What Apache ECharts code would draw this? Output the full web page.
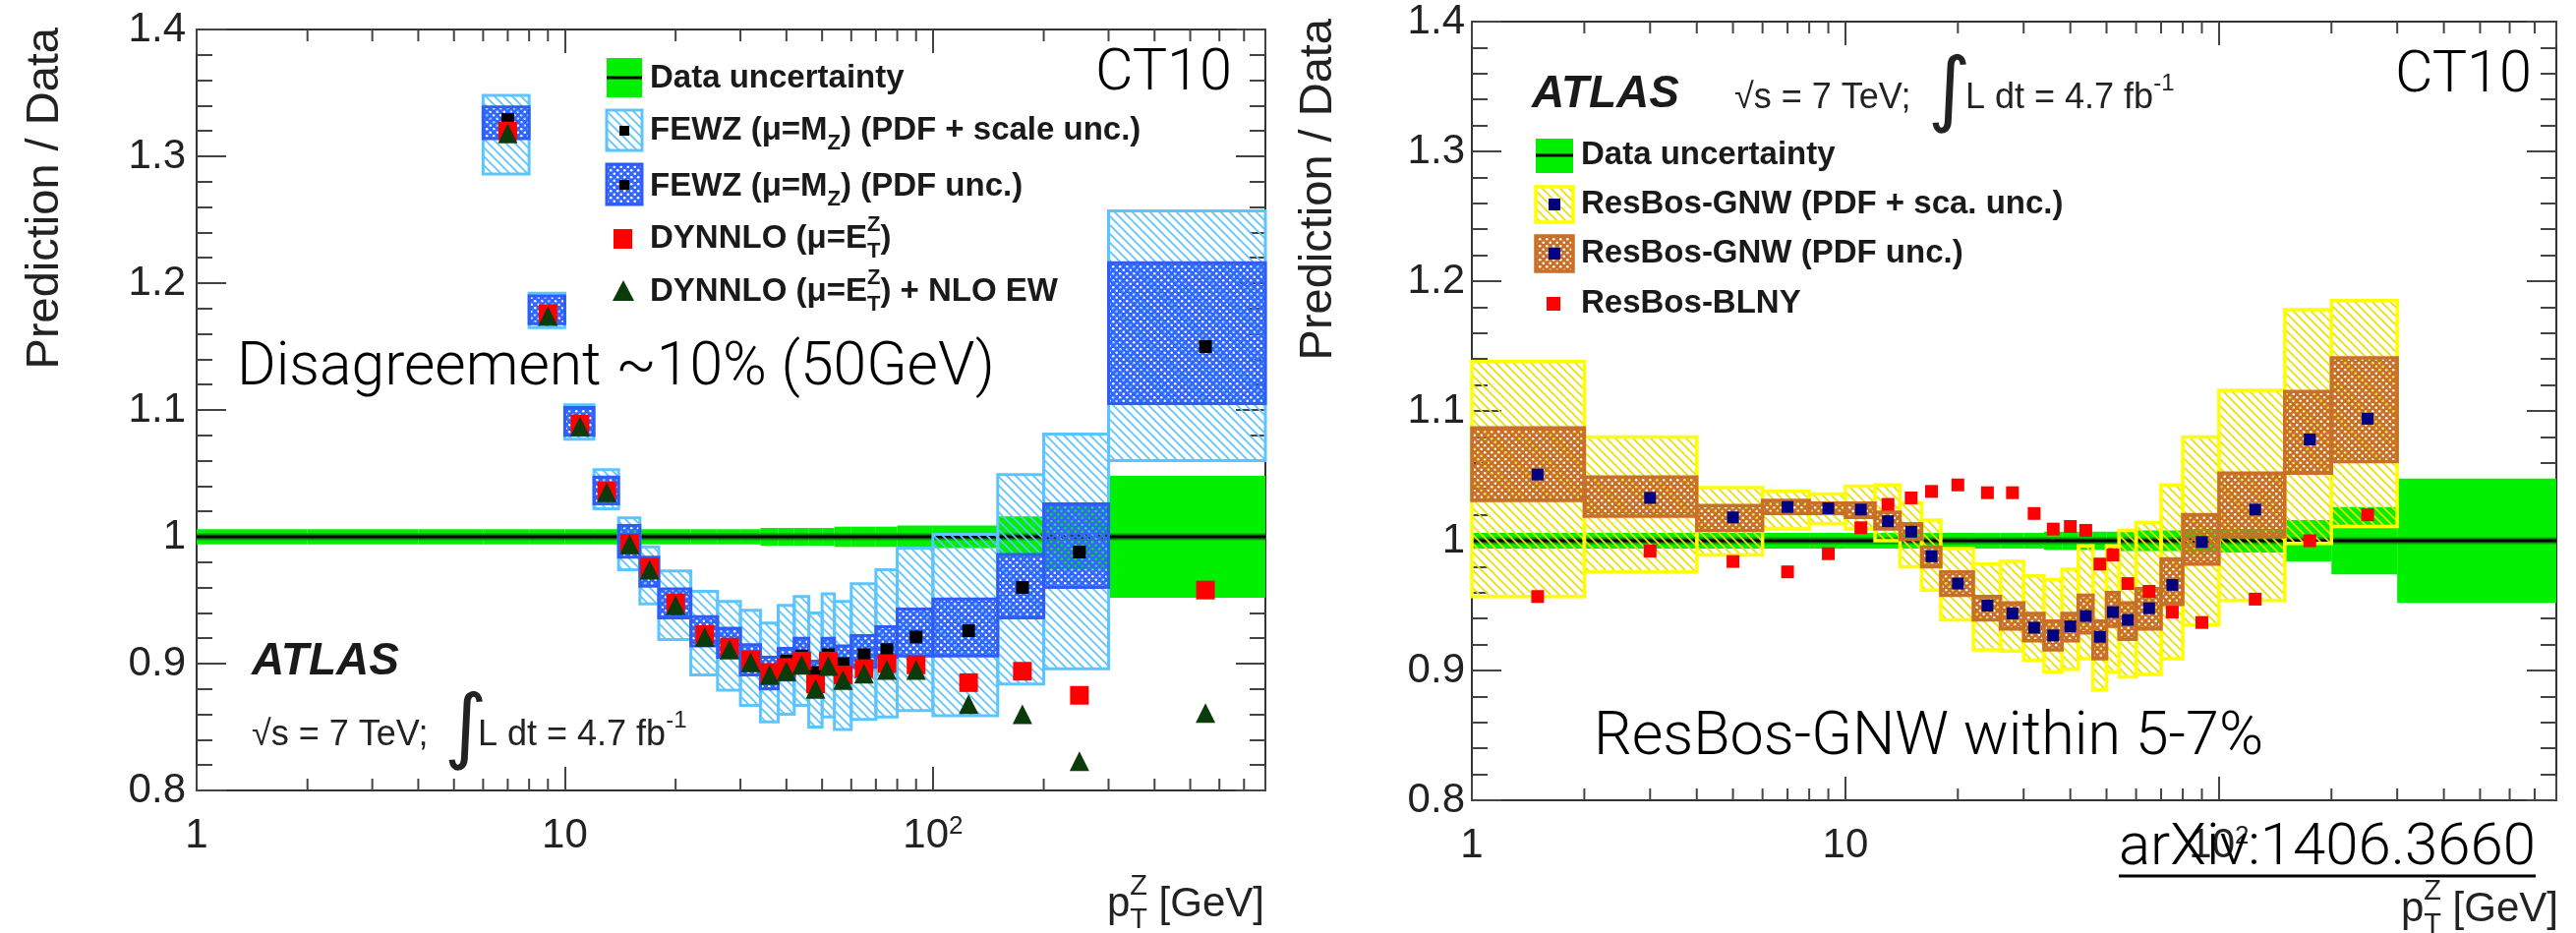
<!DOCTYPE html>
<html>
<head>
<meta charset="utf-8">
<script src="https://cdn.jsdelivr.net/npm/echarts@6/dist/echarts.min.js"></script>
<style>
  html, body { margin: 0; padding: 0; background: #fff; }
  #chart { width: 2620px; height: 949px; }
</style>
</head>
<body>
<div id="chart"></div>
<script>
// pT bin edges (GeV), same binning in both panels
var edges = [1, 2, 4, 6, 8, 10, 12, 14, 16, 18, 22, 26, 30, 34, 38, 42, 46, 50, 54, 60, 70, 80, 100, 150, 200, 300, 800];
var centers = [1.5, 3, 5, 7, 9, 11, 13, 15, 17, 20, 24, 28, 32, 36, 40, 44, 48, 52, 57, 65, 75, 90, 125, 175, 250, 550];
// half width of the data uncertainty band, per bin
var dataUnc = [0.006, 0.006, 0.006, 0.006, 0.006, 0.006, 0.006, 0.006, 0.006, 0.006, 0.006, 0.006, 0.006,
  0.007, 0.007, 0.007, 0.007, 0.007, 0.008, 0.008, 0.008, 0.009, 0.009, 0.016, 0.026, 0.048];

// left panel: FEWZ / DYNNLO, from bin [6,8] on
var fewzFirst = 3;
var fewzCentral = [1.329, 1.177, 1.091, 1.037, 0.997, 0.972, 0.947, 0.922, 0.914, 0.903, 0.895, 0.902, 0.906, 0.893, 0.907, 0.900, 0.907, 0.911, 0.921, 0.926, 0.960, 0.988, 1.150];
var fewzPdfLo = [1.314, 1.168, 1.080, 1.026, 0.984, 0.961, 0.936, 0.914, 0.905, 0.891, 0.880, 0.887, 0.895, 0.879, 0.897, 0.891, 0.897, 0.905, 0.906, 0.906, 0.936, 0.960, 1.105];
var fewzPdfHi = [1.339, 1.190, 1.102, 1.047, 1.009, 0.984, 0.959, 0.937, 0.928, 0.915, 0.905, 0.912, 0.920, 0.902, 0.920, 0.914, 0.922, 0.929, 0.943, 0.951, 0.986, 1.026, 1.216];
var fewzTotLo = [1.286, 1.165, 1.077, 1.022, 0.974, 0.947, 0.919, 0.891, 0.879, 0.867, 0.854, 0.860, 0.867, 0.850, 0.858, 0.848, 0.856, 0.858, 0.863, 0.859, 0.884, 0.896, 1.060];
var fewzTotHi = [1.348, 1.192, 1.104, 1.053, 1.015, 0.992, 0.973, 0.957, 0.949, 0.942, 0.932, 0.946, 0.953, 0.940, 0.955, 0.949, 0.963, 0.974, 0.991, 1.002, 1.049, 1.081, 1.257];
var dynnlo = [1.320, 1.176, 1.089, 1.036, 0.995, 0.976, 0.948, 0.923, 0.913, 0.903, 0.893, 0.897, 0.902, 0.884, 0.902, 0.891, 0.896, 0.900, 0.899, 0.885, 0.894, 0.875, 0.958];
var dynnloEw = [1.318, 1.174, 1.087, 1.035, 0.994, 0.974, 0.946, 0.921, 0.911, 0.901, 0.891, 0.894, 0.899, 0.880, 0.898, 0.887, 0.892, 0.895, 0.895, 0.868, 0.860, 0.823, 0.861];

// right panel: ResBos, bins [1,2] .. [200,300]
var gnwCentral = [1.051, 1.033, 1.018, 1.026, 1.025, 1.024, 1.015, 1.007, 0.988, 0.967, 0.950, 0.944, 0.933, 0.927, 0.934, 0.942, 0.926, 0.945, 0.939, 0.948, 0.966, 0.999, 1.024, 1.078, 1.094];
var gnwPdfLo = [1.031, 1.019, 1.008, 1.021, 1.021, 1.018, 1.009, 1.001, 0.980, 0.958, 0.939, 0.932, 0.923, 0.916, 0.923, 0.929, 0.909, 0.934, 0.924, 0.932, 0.951, 0.982, 1.003, 1.052, 1.061];
var gnwPdfHi = [1.087, 1.049, 1.027, 1.031, 1.029, 1.029, 1.022, 1.013, 0.995, 0.976, 0.957, 0.952, 0.944, 0.938, 0.944, 0.958, 0.938, 0.960, 0.952, 0.963, 0.986, 1.020, 1.052, 1.115, 1.141];
var gnwTotLo = [0.957, 0.976, 0.989, 1.009, 1.013, 1.009, 1.000, 0.980, 0.962, 0.939, 0.916, 0.915, 0.908, 0.899, 0.901, 0.909, 0.885, 0.899, 0.895, 0.897, 0.909, 0.935, 0.954, 0.998, 1.011];
var gnwTotHi = [1.138, 1.080, 1.041, 1.038, 1.036, 1.042, 1.043, 1.029, 1.016, 0.994, 0.982, 0.984, 0.973, 0.970, 0.978, 0.996, 0.986, 0.996, 1.008, 1.014, 1.043, 1.080, 1.116, 1.178, 1.185];
var blny = [0.957, 0.992, 0.984, 0.976, 0.990, 1.010, 1.028, 1.033, 1.038, 1.043, 1.037, 1.037, 1.021, 1.009, 1.011, 1.008, 0.982, 0.989, 0.967, 0.961, 0.945, 0.937, 0.955, 1.000, 1.020];

// log-axis minor tick positions
var minorX = [2, 3, 4, 5, 6, 7, 8, 9, 20, 30, 40, 50, 60, 70, 80, 90, 200, 300, 400, 500, 600, 700];

var SANS = '"Liberation Sans", Arial, Helvetica, sans-serif';
var LIGHT = 'Roboto, "Liberation Sans", sans-serif';
var GREEN = '#00f000';

// fill patterns (ROOT-like hatches)
function hatch(color) {
  var s = 9, c = document.createElement('canvas');
  c.width = c.height = s;
  var g = c.getContext('2d');
  g.strokeStyle = color;
  g.lineWidth = 1.7;
  g.beginPath();
  g.moveTo(0, 0); g.lineTo(s, s);
  g.moveTo(-2, s - 2); g.lineTo(2, s + 2);
  g.moveTo(s - 2, -2); g.lineTo(s + 2, 2);
  g.stroke();
  return { image: c, repeat: 'repeat' };
}
function dots(color) {
  var s = 7, c = document.createElement('canvas');
  c.width = c.height = s;
  var g = c.getContext('2d');
  g.fillStyle = color;
  g.fillRect(0, 0, s, s);
  g.globalCompositeOperation = 'destination-out';
  [[1.75, 1.75], [5.25, 5.25]].forEach(function (p) {
    g.beginPath(); g.arc(p[0], p[1], 1.3, 0, Math.PI * 2); g.fill();
  });
  return { image: c, repeat: 'repeat' };
}
var hatchBlue = hatch('#5cc4ff');
var dotsBlue = dots('#3366ff');
var hatchYellow = hatch('#ebe000');
var dotsBrown = dots('#c8702a');

function boxes(lo, hi, first) {
  return lo.map(function (v, j) {
    var i = j + first;
    return [edges[i], edges[i + 1], v, hi[j]];
  });
}
function points(vals, first) {
  return vals.map(function (v, j) { return [centers[j + first], v]; });
}
var uncBoxes = dataUnc.map(function (h, i) { return [edges[i], edges[i + 1], 1 - h, 1 + h]; });

function boxSeries(panel, data, fill, stroke, lw, z) {
  return {
    type: 'custom', xAxisIndex: panel * 2, yAxisIndex: panel * 2, z: z, silent: true,
    data: data,
    encode: { x: [0, 1], y: [2, 3] },
    renderItem: function (params, api) {
      var p1 = api.coord([api.value(0), api.value(3)]);
      var p2 = api.coord([api.value(1), api.value(2)]);
      return {
        type: 'rect',
        shape: { x: p1[0], y: p1[1], width: p2[0] - p1[0], height: p2[1] - p1[1] },
        style: { fill: fill, stroke: stroke, lineWidth: lw }
      };
    }
  };
}
function minorTicks(panel) {
  return {
    type: 'custom', xAxisIndex: panel * 2, yAxisIndex: panel * 2, z: 10, silent: true, clip: false,
    data: minorX.map(function (x) { return [x, 1]; }),
    renderItem: function (params, api) {
      var b = api.coord([api.value(0), 0.8]);
      var t = api.coord([api.value(0), 1.4]);
      var st = { stroke: '#444', lineWidth: 2 };
      return {
        type: 'group', children: [
          { type: 'line', shape: { x1: b[0], y1: b[1], x2: b[0], y2: b[1] - 12 }, style: st },
          { type: 'line', shape: { x1: t[0], y1: t[1], x2: t[0], y2: t[1] + 12 }, style: st }
        ]
      };
    }
  };
}
function unityLine(panel) {
  return [{
    type: 'line', xAxisIndex: panel * 2, yAxisIndex: panel * 2, z: 2, silent: true,
    symbol: 'none', data: [[1, 1], [800, 1]],
    lineStyle: { color: '#0a9a0a', width: 7 }
  }, {
    type: 'line', xAxisIndex: panel * 2, yAxisIndex: panel * 2, z: 2, silent: true,
    symbol: 'none', data: [[1, 1], [800, 1]],
    lineStyle: { color: '#000', width: 3 }
  }];
}
function scatter(panel, data, symbol, size, color, z) {
  return {
    type: 'scatter', xAxisIndex: panel * 2, yAxisIndex: panel * 2, z: z, silent: true,
    symbol: symbol, symbolSize: size, data: data,
    itemStyle: { color: color, opacity: 1 }
  };
}

function fmtX(v) {
  if (Math.abs(v - 1) < 1e-6) return '{b|1}';
  if (Math.abs(v - 10) < 1e-5) return '{b|10}';
  if (Math.abs(v - 100) < 1e-4) return '{b|10}{s|2}';
  return '';
}
function xAxes(grid) {
  function base() {
    return {
      gridIndex: grid, type: 'log', logBase: 10, min: 1, max: 800,
      splitLine: { show: false },
      axisLine: { show: true, onZero: false, lineStyle: { color: '#333', width: 2 } },
      axisTick: { show: true, inside: true, length: 24, lineStyle: { color: '#444', width: 2 } }
    };
  }
  var a = base();
  a.position = 'bottom';
  a.axisLabel = {
    margin: 24, formatter: fmtX, color: '#222',
    rich: {
      b: { fontSize: 42, fontFamily: SANS, color: '#222', lineHeight: 44 },
      s: { fontSize: 26, fontFamily: SANS, color: '#222', verticalAlign: 'top', lineHeight: 26 }
    }
  };
  var b = base();
  b.position = 'top';
  b.axisLabel = { show: false };
  return [a, b];
}
function yAxes(grid, margin) {
  function base() {
    return {
      gridIndex: grid, type: 'value', min: 0.8, max: 1.4, interval: 0.1,
      splitLine: { show: false },
      axisLine: { show: true, onZero: false, lineStyle: { color: '#333', width: 2 } },
      axisTick: { show: true, inside: true, length: 30, lineStyle: { color: '#444', width: 2 } },
      minorTick: { show: true, splitNumber: 5, length: 16, lineStyle: { color: '#444', width: 2 } }
    };
  }
  var a = base();
  a.position = 'left';
  a.axisLabel = {
    margin: margin, color: '#222', fontFamily: SANS, fontSize: 42,
    formatter: function (v) { return String(Math.round(v * 10) / 10); }
  };
  var b = base();
  b.position = 'right';
  b.axisLabel = { show: false };
  return [a, b];
}

// text helpers
var mctx = document.createElement('canvas').getContext('2d');
function textRun(x, y, parts, o) {
  var items = [], cx = 0, hold = 0;
  parts.forEach(function (p) {
    var size = p.k ? Math.round(o.size * 0.68) : (p.size || o.size);
    var font = (o.style || 'normal') + ' ' + (o.weight || 'normal') + ' ' + size + 'px ' + (p.family || o.family);
    mctx.font = font;
    var w = mctx.measureText(p.t).width;
    var dy = p.k === 'sub' ? o.size * 0.38 : (p.k === 'sup' ? -o.size * 0.42 : 0);
    items.push({ t: p.t, font: font, dx: cx, dy: dy });
    if (p.stack) { hold = w; } else { cx += Math.max(w, hold); hold = 0; }
  });
  var x0 = o.align === 'right' ? x - cx : x;
  return items.map(function (it) {
    return {
      type: 'text', x: x0 + it.dx, y: y + it.dy, z: 100, silent: true,
      style: {
        text: it.t, font: it.font, fill: o.color || '#1a1a1a',
        textAlign: 'left', textVerticalAlign: 'middle', align: 'left', verticalAlign: 'middle'
      }
    };
  });
}
function fitSize(str, family, weight, width) {
  mctx.font = weight + ' 100px ' + family;
  return 100 * width / mctx.measureText(str).width;
}
function bigText(str, x, y, width, align) {
  var size = fitSize(str, LIGHT, '300', width);
  return {
    type: 'text', x: x, y: y, z: 100, silent: true,
    style: {
      text: str, font: '300 ' + size.toFixed(1) + 'px ' + LIGHT, fill: '#000',
      textAlign: align || 'left', textVerticalAlign: 'middle', align: align || 'left', verticalAlign: 'middle'
    }
  };
}
function vTitle(x, y) {
  return {
    type: 'text', x: x, y: y, rotation: Math.PI / 2, z: 100, silent: true,
    style: {
      text: 'Prediction / Data', font: '47px ' + SANS, fill: '#222',
      textAlign: 'right', textVerticalAlign: 'middle', align: 'right', verticalAlign: 'middle'
    }
  };
}
function rect(x, y, w, h, fill, stroke, lw) {
  return { type: 'rect', z: 100, silent: true, shape: { x: x, y: y, width: w, height: h },
    style: { fill: fill, stroke: stroke || null, lineWidth: lw || 0 } };
}

var leg = { size: 33, weight: 'bold', family: SANS, color: '#1a1a1a' };
var energy = { size: 36, family: SANS, color: '#222' };
var ptTitle = [{ t: 'p' }, { t: 'Z', k: 'sup', stack: true }, { t: 'T', k: 'sub' }, { t: ' [GeV]' }];

var graphics = [].concat(
  // left panel legend
  [rect(617, 59, 36, 40, GREEN),
   { type: 'line', z: 101, silent: true, shape: { x1: 617, y1: 79, x2: 653, y2: 79 }, style: { stroke: '#000', lineWidth: 3 } },
   rect(617, 112, 36, 41, hatchBlue, '#5cc4ff', 3),
   rect(630, 128, 10, 10, '#000'),
   rect(617, 167, 36, 41, dotsBlue, '#2f5cf5', 3),
   rect(630, 183, 10, 10, '#000'),
   rect(624, 233, 19, 20, '#ff0000'),
   { type: 'polygon', z: 100, silent: true, shape: { points: [[634, 285], [623, 306], [645, 306]] }, style: { fill: '#0b3b0b' } }],
  textRun(661, 80, [{ t: 'Data uncertainty' }], leg),
  textRun(661, 133, [{ t: 'FEWZ (μ=M' }, { t: 'Z', k: 'sub' }, { t: ') (PDF + scale unc.)' }], leg),
  textRun(661, 190, [{ t: 'FEWZ (μ=M' }, { t: 'Z', k: 'sub' }, { t: ') (PDF unc.)' }], leg),
  textRun(661, 243, [{ t: 'DYNNLO (μ=E' }, { t: 'Z', k: 'sup', stack: true }, { t: 'T', k: 'sub' }, { t: ')' }], leg),
  textRun(661, 297, [{ t: 'DYNNLO (μ=E' }, { t: 'Z', k: 'sup', stack: true }, { t: 'T', k: 'sub' }, { t: ') + NLO EW' }], leg),
  // left panel labels
  textRun(256, 673, [{ t: 'ATLAS' }], { size: 46, weight: 'bold', style: 'italic', family: SANS, color: '#1a1a1a' }),
  textRun(256, 748, [{ t: '√s = 7 TeV;' }], energy),
  textRun(452, 744, [{ t: '∫', size: 84 }], { size: 84, family: '"DejaVu Sans", sans-serif', color: '#222' }),
  textRun(486, 748, [{ t: 'L dt = 4.7 fb' }, { t: '-1', k: 'sup' }], energy),
  [bigText('CT10', 1253, 76, 139, 'right'),
   bigText('Disagreement ~10% (50GeV)', 241, 376, 771),
   vTitle(46, 28)],
  textRun(1286, 920, ptTitle, { size: 42, family: SANS, color: '#222', align: 'right' }),

  // right panel legend
  [rect(1562, 141, 38, 35, GREEN),
   { type: 'line', z: 101, silent: true, shape: { x1: 1562, y1: 158, x2: 1600, y2: 158 }, style: { stroke: '#000', lineWidth: 3 } },
   rect(1562, 190, 38, 36, hatchYellow, '#ffff00', 3.5),
   rect(1575, 202, 12, 12, '#000080'),
   rect(1562, 240, 38, 36, dotsBrown, '#c8702a', 3.5),
   rect(1575, 252, 12, 12, '#000080'),
   rect(1573, 302, 14, 14, '#ff0000')],
  textRun(1608, 158, [{ t: 'Data uncertainty' }], leg),
  textRun(1608, 208, [{ t: 'ResBos-GNW (PDF + sca. unc.)' }], leg),
  textRun(1608, 258, [{ t: 'ResBos-GNW (PDF unc.)' }], leg),
  textRun(1608, 309, [{ t: 'ResBos-BLNY' }], leg),
  // right panel labels
  textRun(1558, 96, [{ t: 'ATLAS' }], { size: 46, weight: 'bold', style: 'italic', family: SANS, color: '#1a1a1a' }),
  textRun(1764, 100, [{ t: '√s = 7 TeV;' }], energy),
  textRun(1961, 96, [{ t: '∫', size: 84 }], { size: 84, family: '"DejaVu Sans", sans-serif', color: '#222' }),
  textRun(1999, 100, [{ t: 'L dt = 4.7 fb' }, { t: '-1', k: 'sup' }], energy),
  [bigText('CT10', 2575, 78, 139, 'right'),
   bigText('ResBos-GNW within 5-7%', 1621, 752, 681),
   bigText('arXiv:1406.3660', 2155, 864, 424),
   { type: 'line', z: 100, silent: true, shape: { x1: 2155, y1: 891, x2: 2579, y2: 891 }, style: { stroke: '#000', lineWidth: 3 } },
   vTitle(1341, 19)],
  textRun(2602, 925, ptTitle, { size: 42, family: SANS, color: '#222', align: 'right' })
);

var chart = echarts.init(document.getElementById('chart'));
chart.setOption({
  animation: false,
  backgroundColor: '#fff',
  grid: [
    { left: 200, top: 30, width: 1087, height: 774 },
    { left: 1497, top: 22, width: 1103, height: 792 }
  ],
  xAxis: xAxes(0).concat(xAxes(1)),
  yAxis: yAxes(0, 11).concat(yAxes(1, 7)),
  series: [].concat(
    [boxSeries(0, uncBoxes, GREEN, null, 0, 1)],
    unityLine(0),
    [boxSeries(0, boxes(fewzTotLo, fewzTotHi, fewzFirst), hatchBlue, '#5cc4ff', 3, 3),
     boxSeries(0, boxes(fewzPdfLo, fewzPdfHi, fewzFirst), dotsBlue, '#2f5cf5', 3, 4),
     scatter(0, points(fewzCentral, fewzFirst), 'rect', 13, '#000', 5),
     scatter(0, points(dynnlo, fewzFirst), 'rect', 19, '#ff0000', 6),
     scatter(0, points(dynnloEw, fewzFirst), 'triangle', 20, '#0b3b0b', 7),
     minorTicks(0)],
    [boxSeries(1, uncBoxes, GREEN, null, 0, 1)],
    unityLine(1),
    [boxSeries(1, boxes(gnwTotLo, gnwTotHi, 0), hatchYellow, '#ffff00', 3.5, 3),
     boxSeries(1, boxes(gnwPdfLo, gnwPdfHi, 0), dotsBrown, '#c8702a', 3.5, 4),
     scatter(1, points(gnwCentral, 0), 'rect', 12, '#000080', 5),
     scatter(1, points(blny, 0), 'rect', 13, '#ff0000', 6),
     minorTicks(1)]
  ),
  graphic: graphics
});
</script>
</body>
</html>
